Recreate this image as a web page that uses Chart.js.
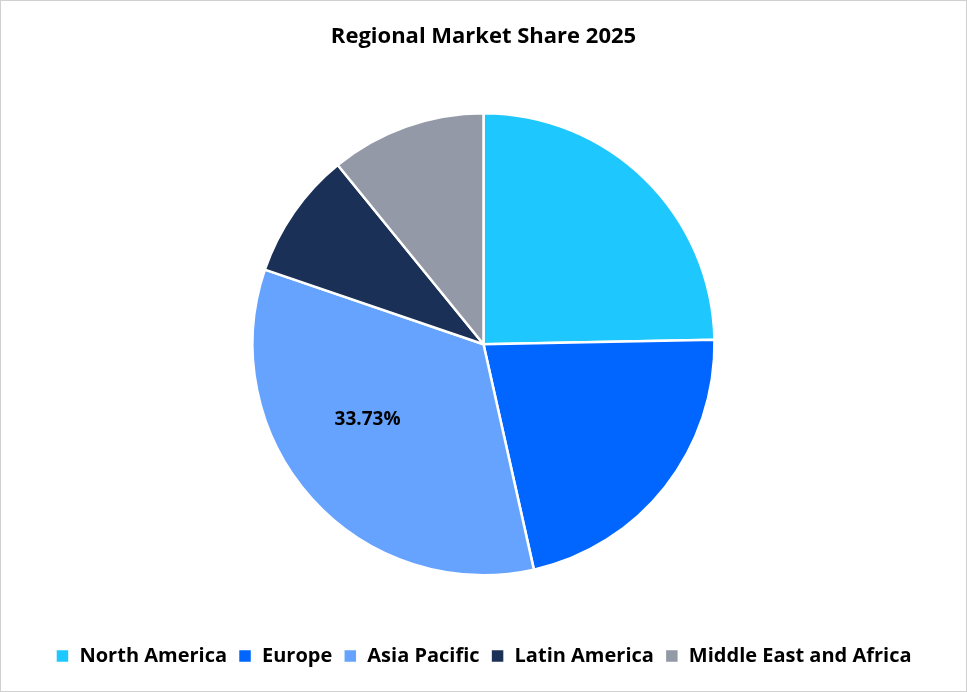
<!DOCTYPE html>
<html>
<head>
<meta charset="utf-8">
<script src="https://cdn.jsdelivr.net/npm/chart.js@4/dist/chart.umd.min.js"></script>
<style>
  html, body { margin: 0; padding: 0; background: #fff; }
  #wrap { position: absolute; left: 0; top: 0; width: 965px; height: 690px; border: 1px solid #d0d0d0; }
</style>
</head>
<body>
<div id="wrap"><canvas id="chart"></canvas></div>
<script>
const regions = ['North America', 'Europe', 'Asia Pacific', 'Latin America', 'Middle East and Africa'];
const shares = [24.7, 21.8, 33.73, 8.9, 10.87];
const colors = ['#1ec8ff', '#0066ff', '#66a3ff', '#1b3057', '#9399a6'];

// label only the largest slice, like the original
const labelPlugin = {
  id: 'sliceLabel',
  afterDatasetsDraw(chart) {
    const ctx = chart.ctx;
    const meta = chart.getDatasetMeta(0);
    const max = Math.max(...shares);
    meta.data.forEach((arc, i) => {
      if (shares[i] !== max) return;
      const p = arc.tooltipPosition();
      ctx.save();
      ctx.font = 'bold 19px "Open Sans", sans-serif';
      ctx.fillStyle = '#000';
      ctx.textAlign = 'center';
      ctx.textBaseline = 'middle';
      ctx.fillText(shares[i].toFixed(2) + '%', p.x - 30, p.y - 2);
      ctx.restore();
    });
  }
};

new Chart(document.getElementById('chart'), {
  type: 'pie',
  data: {
    labels: regions,
    datasets: [{ data: shares, backgroundColor: colors, borderColor: '#fff', borderWidth: 2.5, radius: 231 }]
  },
  options: {
    responsive: true,
    maintainAspectRatio: false,
    animation: false,
    layout: { padding: { top: 0, bottom: 15 } },
    plugins: {
      title: {
        display: true,
        text: 'Regional Market Share 2025',
        color: '#000',
        font: { family: '"Open Sans", sans-serif', size: 22, weight: 'bold' },
        padding: { top: 23, bottom: 3 }
      },
      legend: {
        position: 'bottom',
        labels: {
          color: '#000',
          boxWidth: 14,
          boxHeight: 14,
          padding: 11,
          font: { family: '"Open Sans", sans-serif', size: 20, weight: 'bold' }
        }
      },
      tooltip: { enabled: false }
    }
  },
  plugins: [labelPlugin]
});
</script>
</body>
</html>
